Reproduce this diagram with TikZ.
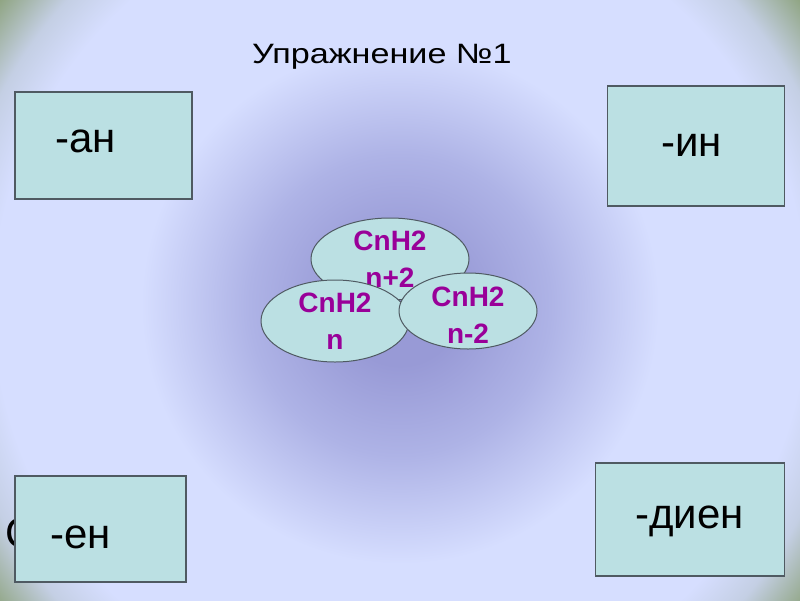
\documentclass[tikz,border=0pt]{standalone}
\usepackage{fontspec}
\setmainfont{Liberation Sans}
\usetikzlibrary{shapes.geometric}
\definecolor{cC}{HTML}{989AD6}
\definecolor{cM}{HTML}{AEB3E6}
\definecolor{cL}{HTML}{D6DEFF}
\definecolor{cT}{HTML}{C4CFE4}
\definecolor{cG}{HTML}{8CA27C}
\definecolor{boxfill}{HTML}{BBE0E3}
\definecolor{boxline}{HTML}{4F5A62}
\definecolor{formula}{HTML}{990099}
\pgfdeclareradialshading{bgshade}{\pgfpoint{0bp}{0bp}}{color(0bp)=(cC); color(60bp)=(cC); color(150bp)=(cM); color(258bp)=(cL); color(405bp)=(cL); color(450bp)=(cT); color(505bp)=(cG); color(570bp)=(cG)}
\tikzset{
  card/.style={draw=boxline, line width=1.2pt, fill=boxfill, rectangle, inner sep=0pt},
  lbl/.style={font=\fontsize{42}{48}\selectfont, inner sep=0pt, text=black},
  heading/.style={font=\fontsize{28}{34}\selectfont, inner sep=0pt, text=black},
  blob/.style={draw=boxline, line width=1pt, fill=boxfill, ellipse, inner sep=-14pt,
    align=center, text=formula, font=\bfseries\fontsize{28}{37}\selectfont}
}
\begin{document}
\begin{tikzpicture}[x=1pt,y=-1pt]
\useasboundingbox (0,0) rectangle (800,600);
\clip (0,0) rectangle (800,600);
\node[inner sep=0pt, outer sep=0pt] (bg) at (400,305) {\pgfuseshading{bgshade}};
% title
\node[heading, anchor=base west] (title) at (252,63) {\scalebox{1.22}[1]{Упражнение №1}};
% hidden letter behind the -ен card
\node[lbl, anchor=base west] (hidden) at (5,547) {С};
% cards
\node[card, minimum width=177pt, minimum height=107pt] (an) at (103.5,145.5) {};
\node[card, minimum width=177pt, minimum height=120pt] (in) at (696,146) {};
\node[card, minimum width=171pt, minimum height=106pt] (en) at (100.5,529) {};
\node[card, minimum width=189pt, minimum height=113pt] (dien) at (690,519.5) {};
\node[lbl, anchor=base west] (tan) at (55,152) {-ан};
\node[lbl, anchor=base west] (tin) at (661,156) {-ин};
\node[lbl, anchor=base west] (ten) at (50,548) {-ен};
\node[lbl, anchor=base west] (tdien) at (635,528) {-диен};
% formula ellipses
\node[blob, minimum width=158pt, minimum height=82pt] (alkane) at (390,259) {CnH2\\n+2};
\node[blob, minimum width=148pt, minimum height=82pt] (alkene) at (335,321) {CnH2\\n};
\node[blob, minimum width=138pt, minimum height=76pt] (alkyne) at (468,311) {\rule{0pt}{27pt}CnH2\\n-2};
\end{tikzpicture}
\end{document}
